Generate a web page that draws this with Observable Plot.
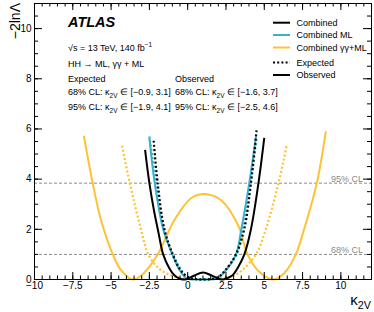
<!DOCTYPE html>
<html><head><meta charset="utf-8">
<script src="https://cdn.jsdelivr.net/npm/d3@7"></script>
<script src="https://cdn.jsdelivr.net/npm/@observablehq/plot@0.6"></script>
<style>body{margin:0;background:#fff}#chart svg{display:block}</style>
</head><body><div id="chart"></div>
<script>
// ---- data ----
const combObsX = [-2.78, -2.5, -2.2, -1.9, -1.6, -1.2, -0.87, -0.5, -0.15, 0.4, 1.0, 1.6, 2.2, 2.6, 2.93, 3.3, 3.7, 4.13, 4.62, 5.0];
const combObsY = [5.17, 3.84, 2.75, 1.85, 1.0, 0.45, 0.17, 0.03, 0.0, 0.15, 0.28, 0.15, 0.0, 0.06, 0.17, 0.5, 1.0, 2.0, 3.84, 5.64];
const combExpX = [-2.22, -1.96, -1.52, -0.98, -0.5, 0, 0.5, 1.0, 1.5, 2.0, 2.5, 3.15, 3.69, 4.13, 4.5];
const combExpY = [5.53, 3.84, 2.0, 1.0, 0.4, 0.1, 0.02, 0, 0.02, 0.1, 0.4, 1.0, 2.0, 3.84, 5.97];
const mlObsX = [-2.5, -2.15, -1.6, -1.0, -0.5, -0.1, 0.4, 0.9, 1.4, 1.9, 2.4, 3.15, 3.5, 4.02, 4.46];
const mlObsY = [5.64, 3.84, 2.0, 1.0, 0.35, 0.05, 0.0, 0.0, 0.0, 0.04, 0.3, 1.0, 2.0, 3.84, 5.7];
const mlExpX = [-2.5, -2.05, -1.55, -0.95, -0.45, 0, 0.5, 1.0, 1.5, 2.0, 2.5, 3.2, 3.6, 4.1, 4.5];
const mlExpY = [5.7, 3.84, 2.0, 1.0, 0.4, 0.1, 0.02, 0, 0.02, 0.1, 0.4, 1.0, 2.0, 3.84, 5.64];
const ggObsX = [-6.78, -6.2, -5.66, -4.89, -4.35, -3.6, -3.05, -1.96, -0.87, 0.22, 1.08, 2.17, 3.3, 3.91, 4.6, 5.6, 6.3, 7.06, 7.6, 8.43, 9.02];
const ggObsY = [5.73, 3.84, 2.37, 1.0, 0.37, 0, 0.15, 1.0, 2.37, 3.24, 3.41, 3.17, 2.15, 1.0, 0.35, 0, 0.25, 1.0, 2.0, 3.84, 5.9];
const ggExpX = [-4.28, -3.78, -3.05, -2.57, -1.9, -1.09, 0, 1.0, 2.0, 3.0, 3.6, 4.46, 5.1, 5.93, 6.48];
const ggExpY = [5.33, 3.84, 2.0, 1.0, 0.45, 0.17, 0.02, 0, 0.05, 0.15, 0.4, 1.0, 2.0, 3.84, 5.4];

const clLevels = [3.84, 1.0];
const clLabels = ["95% CL", "68% CL"];

const xTicks = [-10, -7.5, -5, -2.5, 0, 2.5, 5, 7.5, 10];
const xTickLabels = ["\u221210", "\u22127.5", "\u22125", "\u22122.5", "0", "2.5", "5", "7.5", "10"];
const yTicks = [0, 2, 4, 6, 8, 10];

const seriesNames = ["Combined", "Combined ML", "Combined \u03b3\u03b3+ML"];
const seriesColors = ["#000000", "#3bb0c9", "#fec232"];
const styleNames = ["Expected", "Observed"];

const intervalRows = ["68% CL", "95% CL"];
const expLo = [-0.9, -1.9], expHi = [3.1, 4.1];
const obsLo = [-1.6, -2.5], obsHi = [3.7, 4.6];

// ---- build table ----
function rows(xs, ys, series, type) { return xs.map((x, i) => ({x, y: ys[i], series, type})); }
const curves = [
  rows(ggObsX, ggObsY, 2, "obs"), rows(ggExpX, ggExpY, 2, "exp"),
  rows(mlObsX, mlObsY, 1, "obs"), rows(mlExpX, mlExpY, 1, "exp"),
  rows(combObsX, combObsY, 0, "obs"), rows(combExpX, combExpY, 0, "exp")
];

const W = 374, H = 312, mL = 34, mR = 3, mT = 3, mB = 33;
const innerH = H - mT - mB, innerW = W - mL - mR;
const xMinor = d3.range(-10, 12.01, 0.5);
const yMinor = d3.range(0, 11.01, 0.5);

const marks = [];
marks.push(Plot.ruleY(clLevels, {y: d => d, stroke: "#8a8a8a", strokeWidth: 1, strokeDasharray: "3,2"}));
curves.forEach(c => {
  const s = c[0].series, exp = c[0].type === "exp";
  marks.push(Plot.line(c, {x: "x", y: "y", curve: "catmull-rom", stroke: seriesColors[s],
    strokeWidth: exp ? 2.2 : 2, strokeDasharray: exp ? "2,2.2" : null, strokeLinecap: "butt"}));
});
// inward ticks on all four sides
marks.push(Plot.tickX(xTicks, {x: d => d, insetTop: innerH - 7, stroke: "black"}));
marks.push(Plot.tickX(xMinor, {x: d => d, insetTop: innerH - 3.5, stroke: "black"}));
marks.push(Plot.tickX(xTicks, {x: d => d, insetBottom: innerH - 7, stroke: "black"}));
marks.push(Plot.tickX(xMinor, {x: d => d, insetBottom: innerH - 3.5, stroke: "black"}));
marks.push(Plot.tickY(yTicks, {y: d => d, insetRight: innerW - 8, stroke: "black"}));
marks.push(Plot.tickY(yMinor, {y: d => d, insetRight: innerW - 4, stroke: "black"}));
marks.push(Plot.tickY(yTicks, {y: d => d, insetLeft: innerW - 8, stroke: "black"}));
marks.push(Plot.tickY(yMinor, {y: d => d, insetLeft: innerW - 4, stroke: "black"}));
marks.push(Plot.frame({stroke: "black", strokeWidth: 1}));
marks.push(Plot.axisX({ticks: xTicks, tickSize: 0, tickPadding: 2.5, tickFormat: (d) => xTickLabels[xTicks.indexOf(d)], label: null, fontSize: 10}));
marks.push(Plot.axisY({ticks: yTicks, tickSize: 0, tickPadding: 3, label: null, fontSize: 10}));

const svg = Plot.plot({
  width: W, height: H, marginLeft: mL, marginRight: mR, marginTop: mT, marginBottom: mB,
  x: {domain: [-10, 12]}, y: {domain: [0, 11]},
  style: {fontFamily: "'Liberation Sans', Arial, sans-serif", fontSize: "10px", color: "black", background: "white"},
  marks
});
document.getElementById("chart").appendChild(svg);

// ---- annotations (rich text with sub/superscripts) ----
const root = d3.select(svg);
const ann = root.append("g").attr("font-family", "'Liberation Sans', Arial, sans-serif");
function rich(x, y, str, size, opts = {}) {
  const t = ann.append("text").attr("x", x).attr("y", y).attr("font-size", size)
    .attr("text-anchor", opts.anchor || "start").attr("fill", opts.fill || "black");
  if (opts.weight) t.attr("font-weight", opts.weight);
  if (opts.style) t.attr("font-style", opts.style);
  if (opts.transform) t.attr("transform", opts.transform);
  const parts = str.split(/(_\{[^}]*\}|\^\{[^}]*\})/).filter(p => p.length);
  let shift = 0;
  parts.forEach(p => {
    const ts = t.append("tspan");
    let target = 0, txt = p, fs = size;
    if (p.startsWith("_{")) { target = 0.28 * size; txt = p.slice(2, -1); fs = 0.72 * size; }
    else if (p.startsWith("^{")) { target = -0.4 * size; txt = p.slice(2, -1); fs = 0.72 * size; }
    ts.attr("dy", target - shift).attr("font-size", fs).text(txt);
    shift = target;
  });
  return t;
}
const fmt = v => (v < 0 ? "\u2212" : "") + Math.abs(v).toFixed(1);

rich(68, 27, "ATLAS", 14.5, {weight: "bold", style: "italic"});
rich(68, 50.5, "\u221as = 13 TeV, 140 fb^{\u22121}", 9);
rich(68, 66.5, "HH \u2192 ML, \u03b3\u03b3 + ML", 9);
rich(68, 81.5, styleNames[0], 9);
rich(175, 81.5, styleNames[1], 9);
intervalRows.forEach((r, i) => {
  const yb = 95 + i * 15;
  rich(68, yb, `${r}: \u03ba_{2V} \u2208 [${fmt(expLo[i])}, ${fmt(expHi[i])}]`, 9);
  rich(175, yb, `${r}: \u03ba_{2V} \u2208 [${fmt(obsLo[i])}, ${fmt(obsHi[i])}]`, 9);
});

// legend
const legY = [22.7, 35, 47.5];
seriesNames.forEach((n, i) => {
  ann.append("line").attr("x1", 273).attr("x2", 290).attr("y1", legY[i]).attr("y2", legY[i])
    .attr("stroke", seriesColors[i]).attr("stroke-width", 2);
  rich(296.5, legY[i] + 3.2, n, 9);
});
const styY = [62.5, 75];
styleNames.forEach((n, i) => {
  ann.append("line").attr("x1", 273).attr("x2", 290).attr("y1", styY[i]).attr("y2", styY[i])
    .attr("stroke", "black").attr("stroke-width", 2).attr("stroke-dasharray", i === 0 ? "2,2.2" : null);
  rich(296.5, styY[i] + 3.2, n, 9);
});

// CL labels
const yScale = svg.scale("y");
clLevels.forEach((lv, i) => {
  rich(363, yScale.apply(lv) - 1, clLabels[i], 9, {anchor: "end", fill: "#8a8a8a"});
});

// axis titles
rich(0, 0, "\u22122ln\u039b", 14, {anchor: "end", transform: "translate(19.5,3) rotate(-90)"});
rich(371, 304.5, "\u03ba_{2V}", 15, {anchor: "end"});
</script></body></html>
